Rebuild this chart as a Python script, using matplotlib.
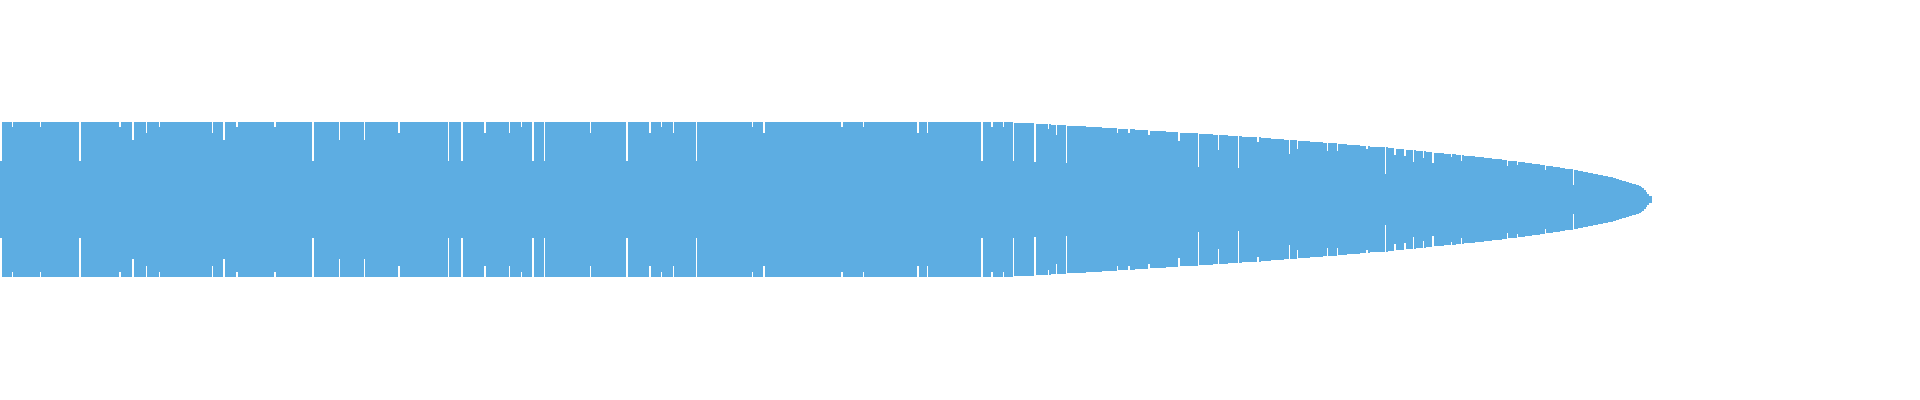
import numpy as np
import matplotlib
matplotlib.use("Agg")
import matplotlib.pyplot as plt

# 1000 bars, centred on zero (bar value = total height)
n_bars = 1000
full_value = 155

# envelope steps: value from index onwards
step_start = [614, 627, 636, 646, 657, 667, 677, 687, 696, 706, 714, 726, 734, 743,
              752, 763, 769, 777, 786, 793, 801, 810, 815, 823, 829, 840, 845, 851,
              857, 863, 868, 874, 881, 886, 893, 898, 903, 909, 913, 919, 923, 927,
              932, 936, 940, 944, 947, 953, 955, 958, 961, 964, 967, 970, 973, 976,
              978, 980, 982, 984, 986, 988, 990, 992, 993, 994, 995, 996, 997, 998]
step_value = [153, 151, 149, 147, 145, 143, 141, 139, 137, 135, 133, 131, 129, 127,
              125, 123, 121, 119, 117, 115, 113, 111, 109, 107, 105, 103, 101, 99,
              97, 95, 93, 91, 89, 87, 85, 83, 81, 79, 77, 75, 73, 71,
              69, 67, 65, 63, 61, 59, 57, 55, 53, 51, 49, 47, 45, 43,
              41, 39, 37, 35, 33, 31, 29, 27, 25, 23, 19, 15, 11, 7]

# single bars below the envelope
dip_index = [0, 7, 24, 48, 72, 80, 88, 96, 128, 135, 143, 166, 189, 205, 220, 241,
             271, 279, 293, 308, 315, 322, 329, 357, 379, 393, 400, 407, 421, 455,
             462, 509, 522, 555, 561, 594, 600, 607, 613, 626, 634,
             639, 645, 676, 683, 695, 713, 725, 737, 749, 761, 780, 785, 803, 809,
             827, 838, 844, 850, 855, 861, 867, 878, 884, 912, 918, 935, 952]
dip_value = [77, 145, 145, 77, 145, 119, 133, 145, 133, 119, 145, 145, 77, 119, 119, 133,
             77, 77, 133, 133, 145, 77, 77, 133, 77, 133, 145, 133, 77, 145,
             133, 145, 145, 133, 133, 77, 145, 145, 77, 75, 141,
             129, 73, 133, 133, 129, 117, 65, 99, 63, 115, 91, 101, 97, 97,
             101, 51, 89, 87, 75, 83, 73, 85, 77, 67, 69, 59, 29]

values = np.full(n_bars, full_value, dtype=float)
for s, v in zip(step_start, step_value):
    values[s:] = v
for i, v in zip(dip_index, dip_value):
    values[i] = v

fig = plt.figure(figsize=(19.2, 4), dpi=100)
ax = fig.add_axes([0, 0, 1, 1])
# bars slightly wider than one slot so no hairline gaps appear between them
ax.bar(np.arange(n_bars), values, bottom=-values / 2, width=1.1, align="edge",
       color="#5DADE2", linewidth=0, antialiased=False)
ax.set_xlim(0, n_bars * 1920 / 1652)
ax.set_ylim(-200.5, 199.5)
ax.axis("off")
fig.savefig("out.png", dpi=100)
